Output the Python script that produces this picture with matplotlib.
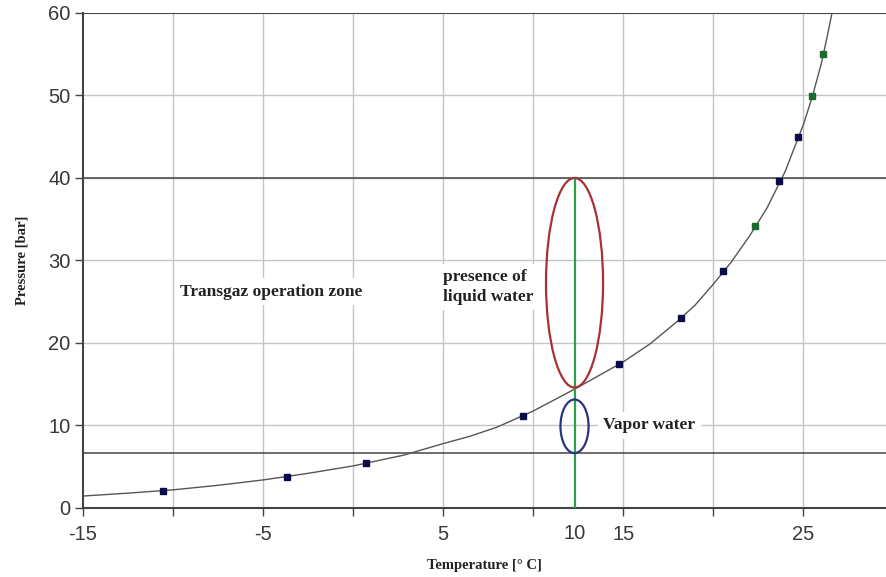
import matplotlib

matplotlib.use("Agg")
import matplotlib.pyplot as plt
import matplotlib.transforms as mtransforms
from matplotlib.patches import Ellipse

# measured points on the hydrate / dew curve
point_temp = [-10.56, -3.67, 0.72, 9.44, 14.78, 18.22, 20.56, 23.67, 24.72]
point_pres = [2.06, 3.76, 5.45, 11.15, 17.45, 23.0, 28.7, 39.6, 45.0]
green_temp = [22.33, 25.5, 26.1]
green_pres = [34.2, 49.9, 55.0]

# fitted line
curve_temp = [-15, -12.5, -10, -7.5, -5, -2.5, 0, 2.8, 5, 6.5, 8, 10, 12.3, 15, 16.5,
              18, 19, 20, 21, 22, 23, 24, 25, 25.5, 26, 26.3, 26.6]
curve_pres = [1.45, 1.8, 2.2, 2.75, 3.4, 4.2, 5.1, 6.4, 7.8, 8.7, 9.8, 11.75, 14.4, 17.7, 19.9,
              22.6, 24.6, 27.1, 29.8, 32.9, 36.4, 40.8, 46.4, 49.8, 53.8, 56.8, 60.0]

zone_bounds = [40, 6.67]
wet_line_temp = 12.3
wet_line_top = 40
liquid_ellipse = (12.3, 27.3, 3.17, 25.4)
vapor_ellipse = (12.3, 9.9, 1.56, 6.5)

x_grid = [-10, -5, 0, 5, 10, 15, 20, 25]
x_labels = {-15: "-15", -5: "-5", 5: "5", 15: "15", 25: "25"}
y_ticks = [0, 10, 20, 30, 40, 50, 60]

fig = plt.figure(figsize=(8.86, 5.77), dpi=100)
ax = fig.add_axes([0.0937, 0.1196, 0.9063, 0.8579])
ax.set_xlim(-15, 29.6)
ax.set_ylim(0, 60)

for gx in x_grid:
  ax.axvline(gx, color="#c0c6c6", linewidth=1.0, zorder=0)
for gy in y_ticks[1:-1]:
  ax.axhline(gy, color="#c0c6c6", linewidth=1.0, zorder=0)
for hy in zone_bounds:
  ax.axhline(hy, color="#444444", linewidth=1.1, zorder=1)
ax.axhline(60, color="#444444", linewidth=1.5, zorder=1)

ax.plot(curve_temp, curve_pres, color="#555555", linewidth=1.0, zorder=2)
ax.plot(point_temp, point_pres, linestyle="none", marker="s", markersize=4.3,
        color="#0b0b4a", zorder=3)
ax.plot(green_temp, green_pres, linestyle="none", marker="s", markersize=4.3,
        color="#1d6b2c", zorder=3)

ax.plot([wet_line_temp, wet_line_temp], [0, wet_line_top], color="#2ca04a", linewidth=1.6, zorder=4)
cx, cy, w, h = liquid_ellipse
ax.add_patch(Ellipse((cx, cy), w, h, fill=False, edgecolor="#a83232", linewidth=1.6, zorder=5))
cx, cy, w, h = vapor_ellipse
ax.add_patch(Ellipse((cx, cy), w, h, fill=False, edgecolor="#2a3580", linewidth=1.6, zorder=5))

text_font = dict(family="Liberation Serif", fontweight="bold", fontsize=12.5, color="#222222")
box = dict(facecolor="white", edgecolor="none", pad=4)
ax.text(-9.6, 26.2, "Transgaz operation zone", va="center", ha="left", bbox=box, zorder=6, **text_font)
ax.text(5.0, 26.8, "presence of\nliquid water", va="center", ha="left", linespacing=1.3,
        bbox=box, zorder=6, **text_font)
ax.text(13.9, 10.05, "Vapor water", va="center", ha="left", bbox=box, zorder=6, **text_font)

tick_font = dict(family="Liberation Sans", fontsize=14.5, color="#383838")
ax.set_xticks([-15] + x_grid)
ax.set_xticklabels([x_labels.get(t, "") for t in [-15] + x_grid], **tick_font)
ax.set_yticks(y_ticks)
ax.set_yticklabels([str(t) for t in y_ticks], **tick_font)
ax.tick_params(axis="x", direction="out", length=6, width=1, color="#444444", pad=6)
ax.tick_params(axis="y", direction="out", length=6, width=1, color="#444444", pad=3)

trans = mtransforms.blended_transform_factory(ax.transData, ax.transAxes)
ax.text(wet_line_temp, -0.032, "10", transform=trans, ha="center", va="top", **tick_font)

for side in ["left", "bottom"]:
  ax.spines[side].set_color("#444444")
  ax.spines[side].set_linewidth(1.5)
ax.spines["right"].set_visible(False)
ax.spines["top"].set_visible(False)

label_font = dict(family="Liberation Serif", fontweight="bold", fontsize=10.5, color="#222222")
ax.set_xlabel("Temperature [° C]", labelpad=11, **label_font)
ax.set_ylabel("Pressure [bar]", labelpad=14, **label_font)

fig.savefig("out.png", dpi=100)
